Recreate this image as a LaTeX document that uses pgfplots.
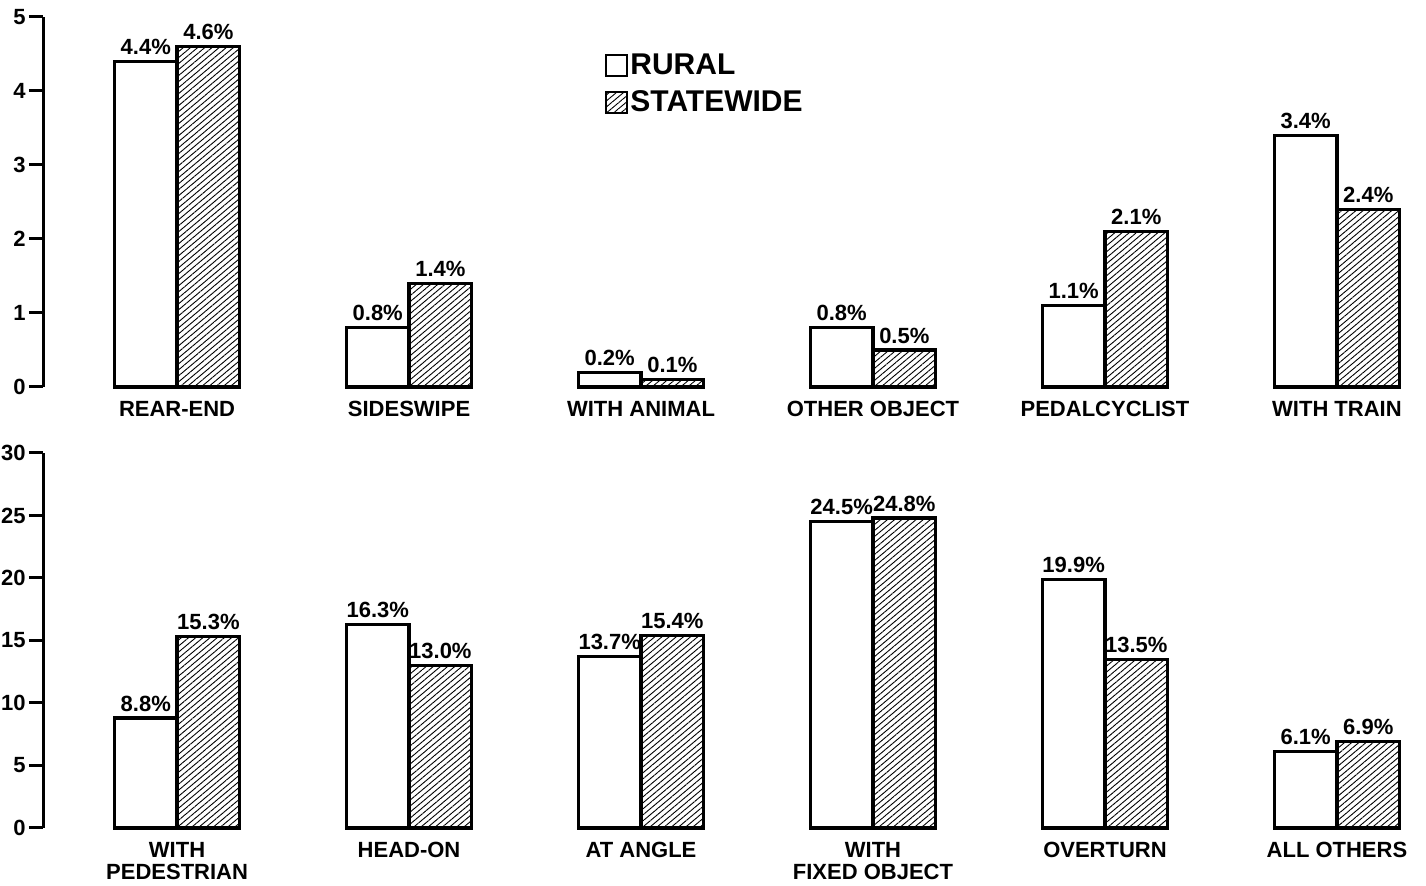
\documentclass[border=0pt]{standalone}
\usepackage{fontspec}
\setmainfont{Liberation Sans}
\usepackage{pgfplots}
\pgfplotsset{compat=1.18}
\usetikzlibrary{patterns.meta}

\pgfplotsset{
  panel/.style={
    scale only axis, width=688.5pt, height=185pt,
    xmin=-0.578, xmax=5.358, ymin=0,
    axis x line*=bottom, axis y line*=left,
    x axis line style={draw=none},
    y axis line style={line width=1.5pt,-},
    major x tick style={draw=none},
    major y tick style={line width=1.5pt,black},
    tick align=outside, major tick length=7pt,
    ybar=0pt, bar width=0.27,
    clip=false,
    xtick={0,1,2,3,4,5},
    /pgf/number format/assume math mode=true,
    yticklabel style={font=\fontsize{11}{11}\selectfont\bfseries, inner sep=1.5pt},
    xticklabel style={font=\fontsize{11}{11}\selectfont\bfseries, align=center, yshift=3.5pt},
    nodes near coords={\pgfmathprintnumber[fixed,precision=1,fixed zerofill]{\pgfplotspointmeta}\%},
    every node near coord/.append style={font=\fontsize{11}{11}\selectfont\bfseries, inner sep=2.5pt},
    every axis plot post/.append style={
      legend image code/.code={\draw[##1, line width=0.9pt] (0pt,-5.25pt) rectangle (10.5pt,5.25pt);}
    },
  },
  rural/.style={draw=black, fill=white, line width=1.6pt},
  state/.style={draw=black, line width=1.6pt, pattern={Lines[angle=40,distance=2.3pt,line width=0.45pt]}},
}

\begin{document}
\begin{tikzpicture}
\useasboundingbox (0,0) rectangle (713pt,-443pt);

\begin{axis}[panel,
  at={(21.5pt,-193.5pt)}, anchor=south west,
  ymax=5, ytick={0,1,2,3,4,5},
  xticklabels={REAR-END, SIDESWIPE, WITH ANIMAL, OTHER OBJECT, PEDALCYCLIST, WITH TRAIN},
  legend style={at={(rel axis cs:0.408,0.908)}, anchor=north west, draw=none, fill=none,
    font=\fontsize{15}{15}\selectfont\bfseries, inner sep=0pt, row sep=4pt,
    nodes={inner sep=1.2pt}},
  legend cell align=left,
]
\addplot[rural] coordinates {(0,4.4) (1,0.8) (2,0.2) (3,0.8) (4,1.1) (5,3.4)};
\addplot[state] coordinates {(0,4.6) (1,1.4) (2,0.1) (3,0.5) (4,2.1) (5,2.4)};
\legend{RURAL, STATEWIDE}
\end{axis}

\begin{axis}[panel,
  at={(21.5pt,-414pt)}, anchor=south west,
  height=187.5pt,
  ymax=30, ytick={0,5,10,15,20,25,30},
  xticklabels={WITH\\PEDESTRIAN, HEAD-ON, AT ANGLE, WITH\\FIXED OBJECT, OVERTURN, ALL OTHERS},
]
\addplot[rural] coordinates {(0,8.8) (1,16.3) (2,13.7) (3,24.5) (4,19.9) (5,6.1)};
\addplot[state] coordinates {(0,15.3) (1,13.0) (2,15.4) (3,24.8) (4,13.5) (5,6.9)};
\end{axis}
\end{tikzpicture}
\end{document}
